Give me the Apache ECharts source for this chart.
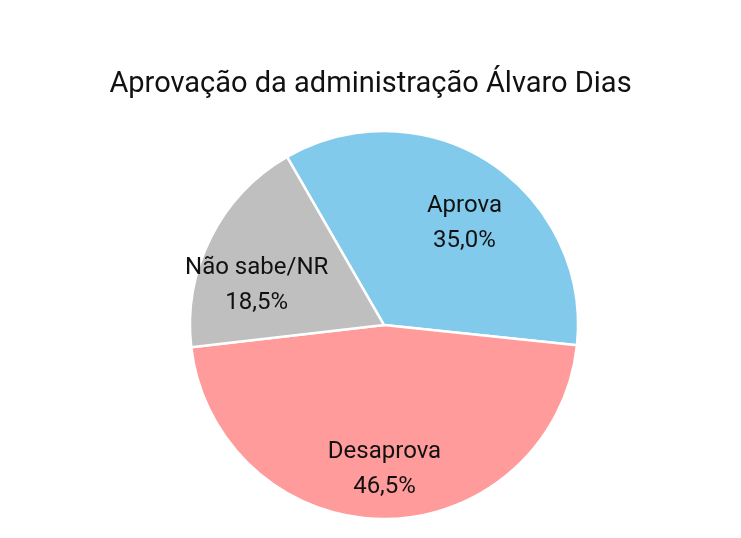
<!DOCTYPE html>
<html><head><meta charset="utf-8">
<script src="https://cdn.jsdelivr.net/npm/echarts@6/dist/echarts.min.js"></script>
<style>html,body{margin:0;padding:0;background:#fff}#c{width:741px;height:538px}</style>
</head><body><div id="c"></div>
<script>
const titleText = 'Aprovação da administração Álvaro Dias';
const categories = ['Aprova', 'Desaprova', 'Não sabe/NR'];
const values = [35.0, 46.5, 18.5];
const colors = ['#82CAEB', '#FF9B9B', '#BFBFBF'];
const labelOffsets = [[26, -18], [0, 45], [-38, 5]];

const chart = echarts.init(document.getElementById('c'), null, {renderer: 'canvas'});
chart.setOption({
  animation: false,
  backgroundColor: '#fff',
  title: {
    text: titleText, left: 'center', top: 65,
    textStyle: {fontFamily: 'Roboto', fontSize: 29, fontWeight: 'normal', color: '#111'}
  },
  series: [{
    type: 'pie',
    center: [384, 325],
    radius: 194,
    startAngle: 120,
    clockwise: true,
    avoidLabelOverlap: false,
    itemStyle: {borderColor: '#fff', borderWidth: 2.5},
    label: {
      show: true, position: 'inside',
      fontFamily: 'Roboto', fontSize: 24, color: '#111', lineHeight: 35,
      formatter: p => p.name + '\n' + p.value.toFixed(1).replace('.', ',') + '%'
    },
    labelLine: {show: false},
    emphasis: {disabled: true},
    data: categories.map((n, i) => ({
      name: n, value: values[i],
      itemStyle: {color: colors[i]},
      label: {offset: labelOffsets[i]}
    }))
  }]
});
</script></body></html>
